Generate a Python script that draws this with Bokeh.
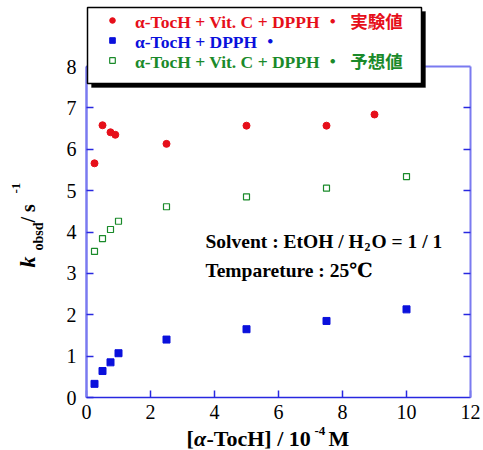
import math
from bokeh.plotting import figure
from bokeh.models import (Range1d, LinearAxis, Legend, LegendItem, Label,
                          BoxAnnotation, FixedTicker)
from bokeh.embed import file_html
from bokeh.resources import INLINE

# ---- data ----
conc_red = [0.25, 0.5, 0.75, 0.9, 2.5, 5.0, 7.5, 9.0]
k_red = [5.66, 6.58, 6.41, 6.35, 6.13, 6.57, 6.57, 6.84]

conc_blue = [0.25, 0.5, 0.75, 1.0, 2.5, 5.0, 7.5, 10.0]
k_blue = [0.33, 0.64, 0.85, 1.07, 1.40, 1.65, 1.85, 2.13]

conc_green = [0.25, 0.5, 0.75, 1.0, 2.5, 5.0, 7.5, 10.0]
k_green = [3.53, 3.84, 4.06, 4.26, 4.61, 4.85, 5.06, 5.34]

x_ticks = [0, 2, 4, 6, 8, 10, 12]
y_ticks = [0, 1, 2, 3, 4, 5, 6, 7, 8]

label_red = "α-TocH + Vit. C + DPPH ・  実験値"
label_blue = "α-TocH + DPPH ・"
label_green = "α-TocH + Vit. C + DPPH ・  予想値"

RED = "#e60f1a"
BLUE = "#0a10dc"
GREEN = "#1a8a2a"
AXL = "#7a7af0"
AXT = "#2828e0"
SERIF = "Liberation Serif"
SERIF_JP = "Liberation Serif, Noto Sans CJK JP"

W, H = 483, 450
# pixel placement of the data box inside the canvas
BOX_L, BOX_R, BOX_T, BOX_B = 86, 470, 66, 397
X0, X1, Y0, Y1 = 0, 12, 0, 8
sxu = (BOX_R - BOX_L) / (X1 - X0)
syu = (BOX_B - BOX_T) / (Y1 - Y0)

p = figure(width=W, height=H, output_backend="svg", toolbar_location=None,
           x_range=Range1d(X0 - BOX_L / sxu, X1 + (W - BOX_R) / sxu),
           y_range=Range1d(Y0 - (H - BOX_B) / syu, Y1 + BOX_T / syu),
           min_border=0, x_axis_location=None, y_axis_location=None)
p.xgrid.visible = False
p.ygrid.visible = False
p.outline_line_color = None
p.background_fill_color = "white"
p.border_fill_color = "white"


def mk_axis(ticks, fixed, bounds, line_color, line_width, show_labels, standoff):
    ax = LinearAxis(ticker=FixedTicker(ticks=ticks), fixed_location=fixed, bounds=bounds,
                    major_tick_in=7, major_tick_out=0, minor_tick_line_color=None,
                    major_tick_line_color=AXT, major_tick_line_width=1.5,
                    axis_line_color=line_color, axis_line_width=line_width,
                    major_label_text_font=SERIF, major_label_text_font_size="20px",
                    major_label_text_color="black", major_label_standoff=standoff)
    if not show_labels:
        ax.major_label_overrides = {t: "" for t in ticks}
        ax.major_label_text_color = None
    return ax


p.add_layout(mk_axis(x_ticks, Y0, (X0, X1), AXT, 1.5, True, 7), "below")
p.add_layout(mk_axis(y_ticks, X0, (Y0, Y1), AXL, 2.5, True, 10), "left")
p.add_layout(mk_axis(y_ticks[1:-1], X1, (Y0, Y1), AXL, 2, False, 0), "right")
p.add_layout(mk_axis([], Y1, (X0, X1), AXL, 2, False, 0), "above")

r_red = p.scatter(conc_red, k_red, marker="circle", size=7, fill_color=RED, line_color=RED)
r_blue = p.scatter(conc_blue, k_blue, marker="square", size=7, fill_color=BLUE, line_color=BLUE)
r_green = p.scatter(conc_green, k_green, marker="square", size=6, fill_color="white",
                    line_color=GREEN, line_width=1.2)

# legend box with drop shadow (screen px, origin bottom-left of canvas)
p.add_layout(BoxAnnotation(left=91, right=425, top=H - 11, bottom=H - 87,
                           left_units="screen", right_units="screen",
                           top_units="screen", bottom_units="screen",
                           fill_color="black", fill_alpha=1, line_color="black"))
p.add_layout(BoxAnnotation(left=87, right=421, top=H - 7, bottom=H - 83,
                           left_units="screen", right_units="screen",
                           top_units="screen", bottom_units="screen",
                           fill_color="white", fill_alpha=1, line_color="black",
                           line_width=1.5, line_alpha=1))

for r, lab_text, col, row_y in ((r_red, label_red, RED, 23),
                                (r_blue, label_blue, BLUE, 43),
                                (r_green, label_green, GREEN, 63)):
    lg = Legend(items=[LegendItem(label=lab_text, renderers=[r])],
                location=(105, H - row_y - 9.5),
                padding=0, margin=0, glyph_width=14, glyph_height=14, label_height=14,
                label_standoff=16, border_line_color=None, background_fill_alpha=0,
                label_text_font=SERIF_JP, label_text_font_style="bold",
                label_text_font_size="17.5px", label_text_color=col)
    p.add_layout(lg)


def lab(text, x, y, size, style="bold", angle=0.0, font=SERIF):
    # x, y: canvas pixels from the top-left (y = text baseline)
    p.add_layout(Label(x=x, y=H - y, x_units="screen", y_units="screen", text=text,
                       text_font=font, text_font_style=style, text_font_size=size,
                       text_color="black", text_baseline="alphabetic", text_align="left",
                       angle=angle))


# annotation text
lab("Solvent : EtOH / H", 205, 240.5, "19.5px")
lab("2", 364, 246.5, "12px")
lab("O = 1 / 1", 371, 240.5, "19.5px")
lab("Tempareture : 25℃", 205, 269.5, "19.5px", font="Liberation Serif, DejaVu Serif")

# x-axis title
lab("[", 186, 438, "22px")
lab("α", 193.5, 438, "22px", style="bold italic")
lab("-TocH] / 10", 206, 438, "22px")
lab("-4", 314, 430, "13px")
lab("M", 328, 438, "22px")

# y-axis title (rotated)
A = math.pi / 2
lab("k", 27, 267, "22px", style="bold italic", angle=A)
lab("obsd", 38, 250, "14px", angle=A)
lab("/ s", 27, 222, "20px", angle=A)
lab("-1", 15, 193, "13px", angle=A)

open("out.html", "w").write(file_html(p, INLINE))
